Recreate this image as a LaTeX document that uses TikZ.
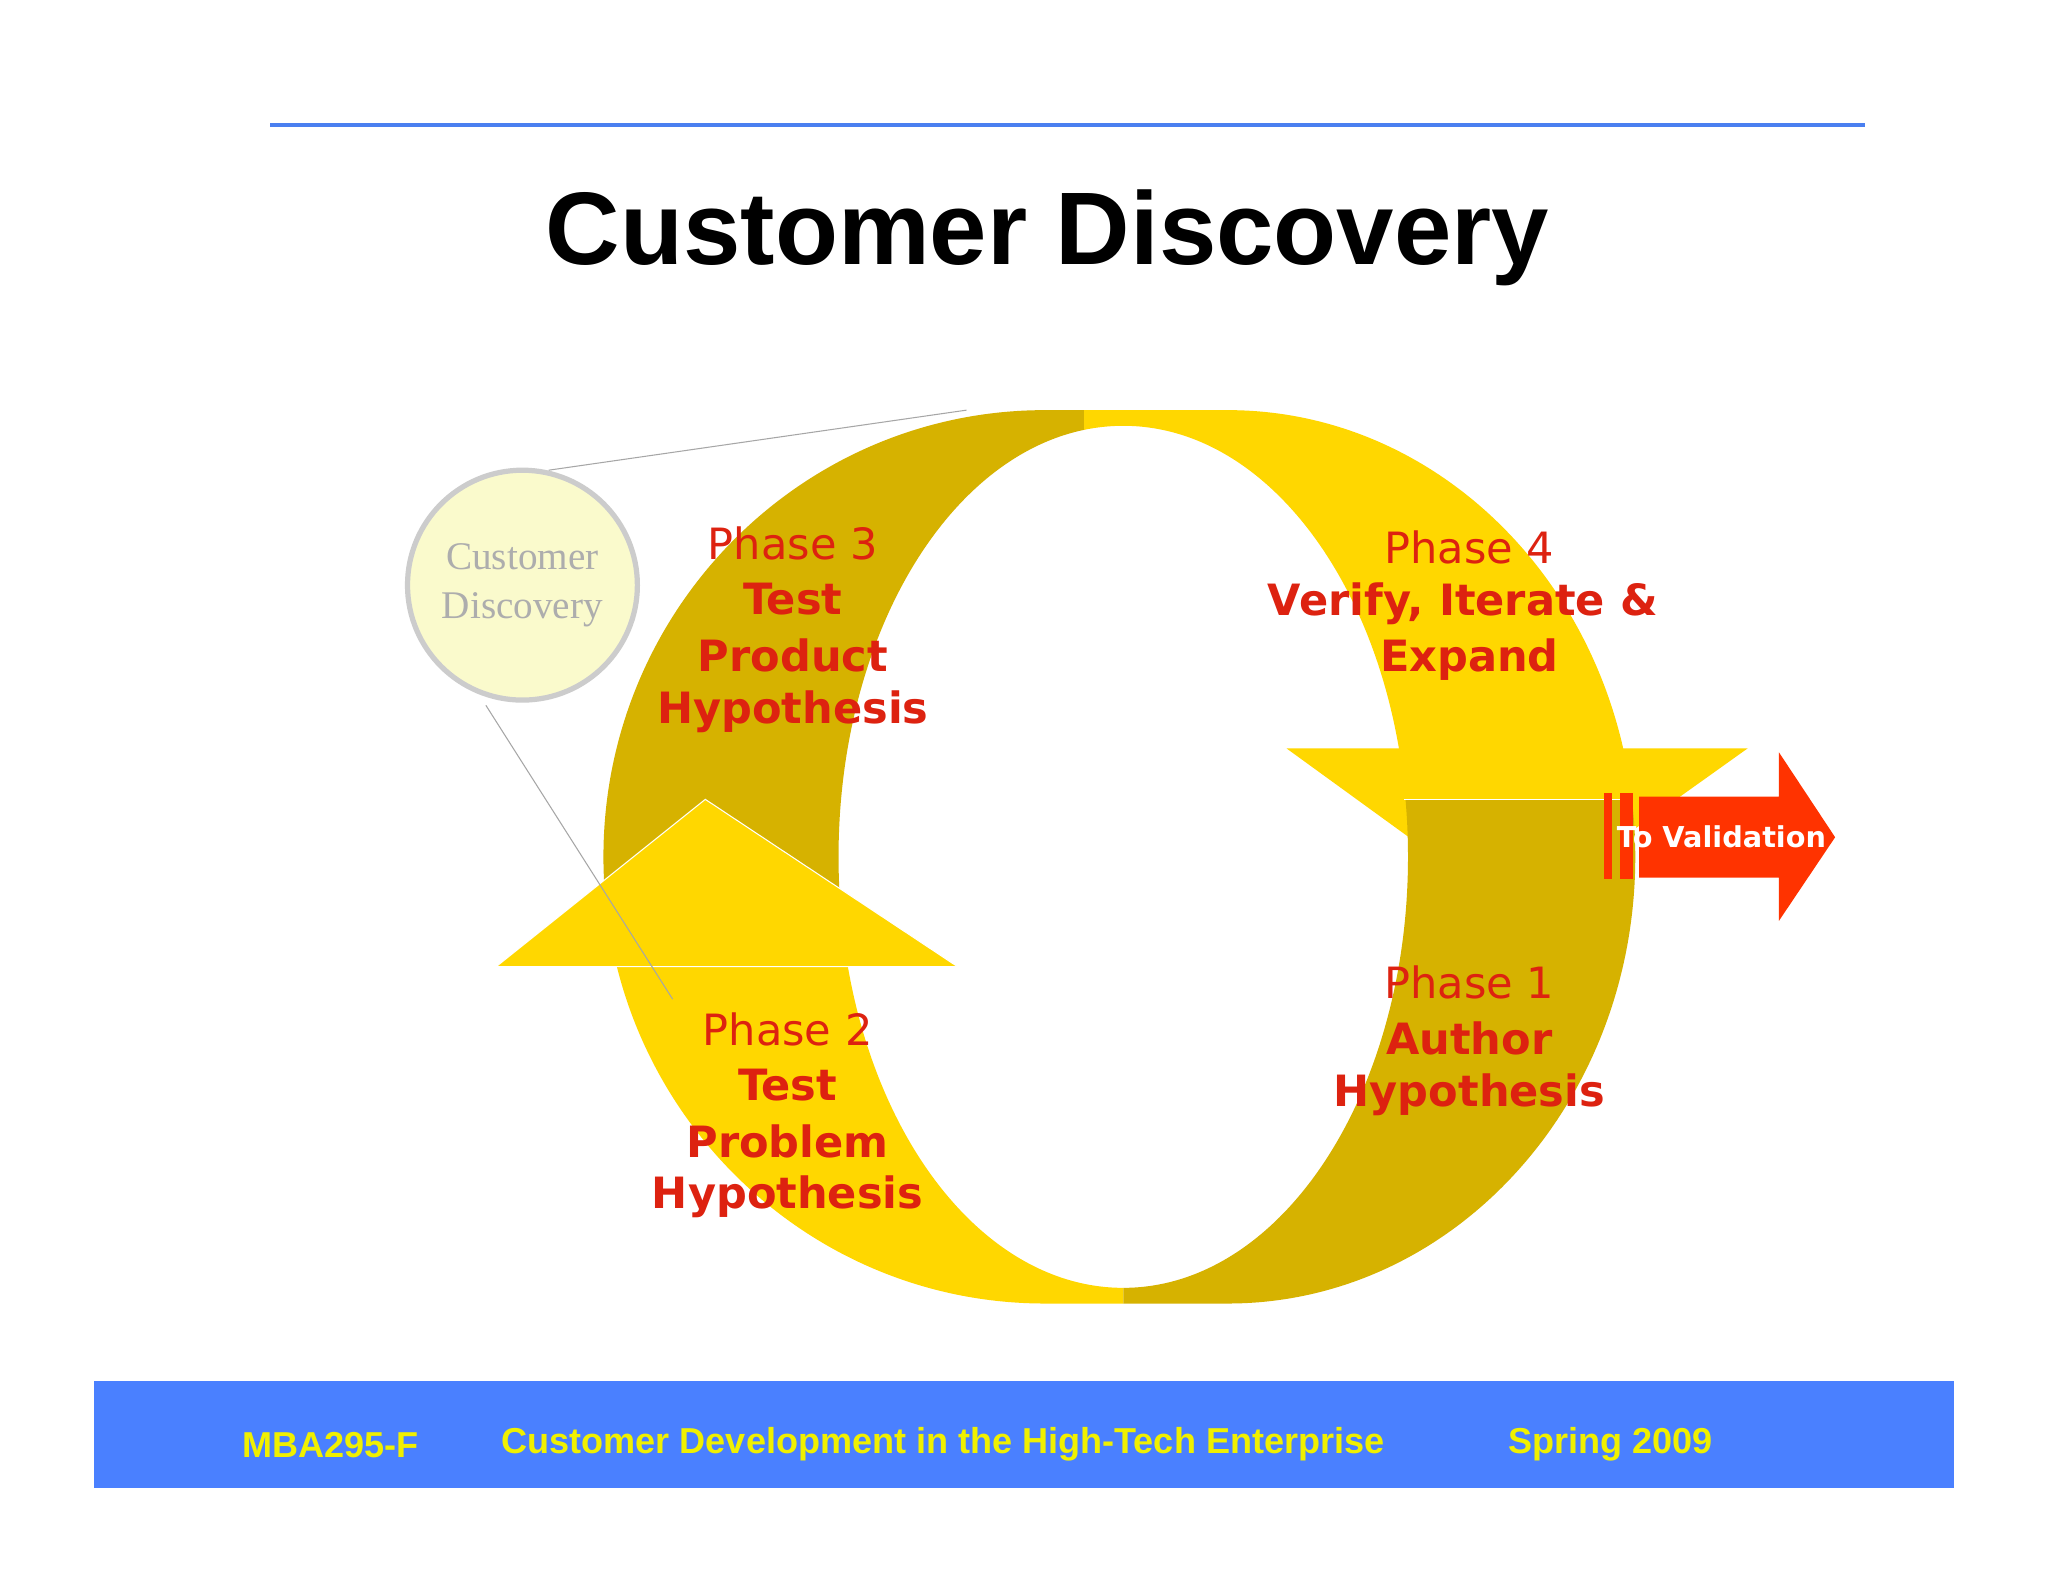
\documentclass[tikz,border=0pt]{standalone}
\usepackage{fontspec}
\setmainfont{Liberation Serif}
\newfontfamily\arial{Liberation Sans}
\newfontfamily\verd{DejaVu Sans}
\begin{document}
\begin{tikzpicture}[x=0.5pt,y=-0.5pt,
  ph/.style={text=phred,font=\verd\fontsize{16.5}{18}\selectfont,anchor=center,inner sep=0},
  phb/.style={ph,font=\verd\bfseries\fontsize{16.5}{18}\selectfont},
  foot/.style={text=footy,font=\arial\bfseries\fontsize{13.8}{15}\selectfont,anchor=center}]
\definecolor{topblue}{HTML}{4A7FF0}
\definecolor{footblue}{HTML}{4A80FF}
\definecolor{footy}{HTML}{F0F000}
\definecolor{bright}{HTML}{FFD700}
\definecolor{dark}{HTML}{D6B200}
\definecolor{phred}{HTML}{DD2210}
\definecolor{vred}{HTML}{FF3300}
\definecolor{circfill}{HTML}{FAFACC}
\definecolor{circgray}{HTML}{CCCCCC}
\useasboundingbox (0,0) rectangle (1568,1210);
\fill[white] (0,0) rectangle (1568,1210);
% top line and title
\draw[topblue,line width=1.5pt] (207,96) coordinate (l1) -- (1428,96) coordinate (l2);
\node[font=\arial\bfseries\fontsize{39.5}{45}\selectfont] (title) at (802,182) {Customer Discovery};
% band path
\def\band{(800,314) arc[start angle=-90,end angle=-270,x radius=338,y radius=342] -- (940,998) arc[start angle=90,end angle=-90,x radius=312,y radius=342] -- cycle (860,656) ellipse [x radius=218,y radius=330]}
% upper-left dark
\begin{scope}
\clip (0,0) rectangle (830,740);
\fill[dark,even odd rule] \band;
\end{scope}
% lower-left bright body
\begin{scope}
\clip (0,740) rectangle (860,1100);
\fill[bright,even odd rule] \band;
\end{scope}
\fill[bright,draw=white,line width=0.4pt] (380,740) -- (540,612) -- (733,740) -- cycle;
% upper-right bright
\begin{scope}
\clip (830,0) rectangle (1600,612);
\fill[bright,even odd rule] \band;
\end{scope}
\fill[bright] (985,573) -- (1338,573) -- (1160,700) -- cycle;
% lower-right dark
\begin{scope}
\clip (860,612) rectangle (1600,1100);
\fill[dark,even odd rule] \band;
\end{scope}
\draw[white,line width=0.4pt] (1075,612) -- (1250,612);
% red arrow
\fill[vred] (1228,607) rectangle (1234,673);
\fill[vred] (1240,607) rectangle (1250,673);
\fill[vred] (1255,610) -- (1362,610) -- (1362,576) -- (1405,641) -- (1362,705) -- (1362,672) -- (1255,672) -- cycle;
\node[text=white,font=\verd\bfseries\fontsize{11}{12}\selectfont] (val) at (1318,641) {To Validation};
% circle
\node[circle,fill=circfill,draw=circgray,line width=2pt,minimum size=88pt,inner sep=0] (circ) at (400,448) {};
\node[text=circgray!85!black,font=\fontsize{15}{19}\selectfont,align=center] (ctext) at (400,448) {Customer\\Discovery};
\coordinate (c1) at (420,360); \coordinate (c2) at (740,314);
\coordinate (c3) at (372,540); \coordinate (c4) at (515,765);
\draw[gray!70,line width=0.4pt] (c1) -- (c2);
\draw[gray!70,line width=0.4pt] (c3) -- (c4);
% phase texts
\node[ph] (p3) at (607,416) {Phase 3};
\node[phb] (p3a) at (607,459) {Test};
\node[phb] (p3b) at (607,502) {Product};
\node[phb] (p3c) at (607,545) {Hypothesis};
\node[ph] (p4) at (1125,419) {Phase 4};
\node[phb] (p4a) at (1120,462) {Verify, Iterate \&};
\node[phb] (p4b) at (1125,505) {Expand};
\node[ph] (p1) at (1125,752) {Phase 1};
\node[phb] (p1a) at (1125,795) {Author};
\node[phb] (p1b) at (1125,838) {Hypothesis};
\node[ph] (p2) at (603,788) {Phase 2};
\node[phb] (p2a) at (603,831) {Test};
\node[phb] (p2b) at (603,874) {Problem};
\node[phb] (p2c) at (603,916) {Hypothesis};
% footer
\fill[footblue] (72,1057) rectangle (1496,1139);
\node[foot] (f1) at (253,1106) {MBA295-F};
\node[foot] (f2) at (722,1106) {Customer Development in the High-Tech Enterprise};
\node[foot] (f3) at (1233,1106) {Spring 2009};
\end{tikzpicture}
\end{document}
